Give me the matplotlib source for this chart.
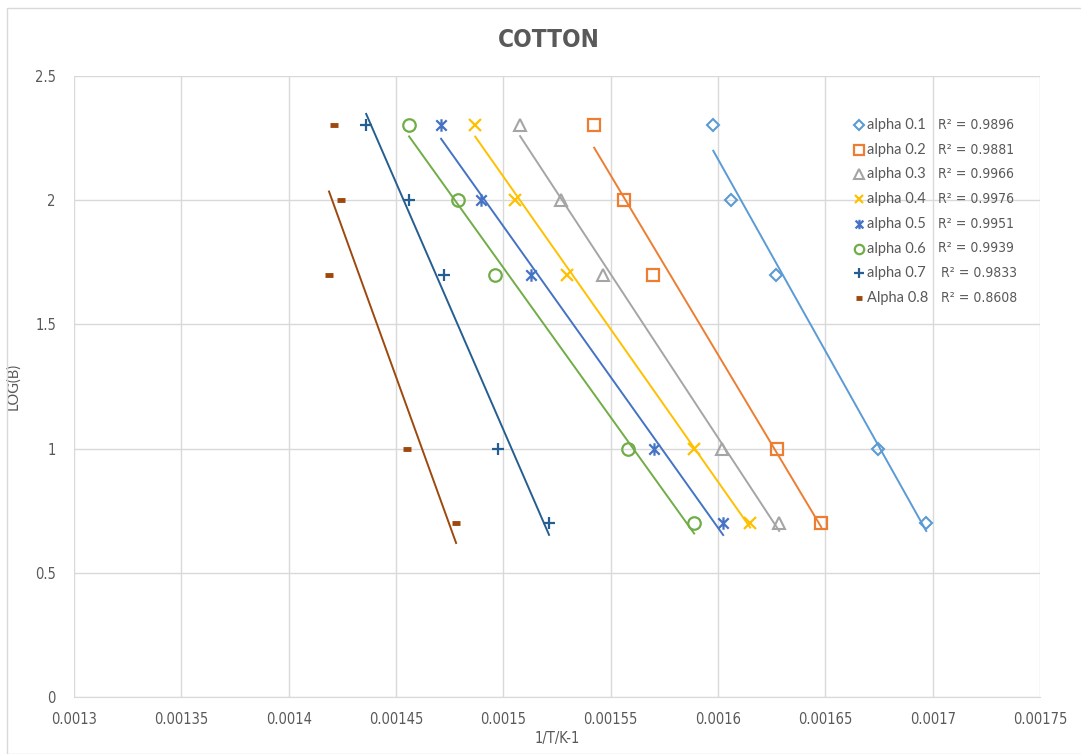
import matplotlib
matplotlib.use("Agg")
import matplotlib.pyplot as plt
import numpy as np
from matplotlib import font_manager
from matplotlib.path import Path
from matplotlib.patches import Rectangle


# --------------------- data

log_b = [2.301, 2.0, 1.699, 1.0, 0.699]

inv_t = {
    "alpha 0.1": [0.0015978, 0.0016061, 0.0016271, 0.0016746, 0.0016970],
    "alpha 0.2": [0.0015423, 0.0015563, 0.0015698, 0.0016276, 0.0016481],
    "alpha 0.3": [0.0015078, 0.0015269, 0.0015465, 0.0016020, 0.0016285],
    "alpha 0.4": [0.0014869, 0.0015055, 0.0015297, 0.0015889, 0.0016150],
    "alpha 0.5": [0.0014710, 0.0014897, 0.0015130, 0.0015703, 0.0016024],
    "alpha 0.6": [0.0014561, 0.0014789, 0.0014962, 0.0015582, 0.0015889],
    "alpha 0.7": [0.0014361, 0.0014561, 0.0014724, 0.0014976, 0.0015213],
    "Alpha 0.8": [0.0014212, 0.0014244, 0.0014188, 0.0014552, 0.0014780],
}

r_squared = ["0.9896", "0.9881", "0.9966", "0.9976", "0.9951", "0.9939", "0.9833", "0.8608"]

colors = ["#5B9BD5", "#ED7D31", "#A5A5A5", "#FFC000", "#4472C4", "#70AD47", "#255E91", "#9E480E"]

x_ticks = [0.0013, 0.00135, 0.0014, 0.00145, 0.0015, 0.00155, 0.0016, 0.00165, 0.0017, 0.00175]
x_tick_labels = ["0.0013", "0.00135", "0.0014", "0.00145", "0.0015", "0.00155",
                 "0.0016", "0.00165", "0.0017", "0.00175"]
y_ticks = [0, 0.5, 1, 1.5, 2, 2.5]
y_tick_labels = ["0", "0.5", "1", "1.5", "2", "2.5"]


# --------------------- fonts

installed = {f.name for f in font_manager.fontManager.ttflist}
narrow = "Liberation Sans Narrow" if "Liberation Sans Narrow" in installed else "DejaVu Sans"
body = "Lato" if "Lato" in installed else "DejaVu Sans"


# --------------------- markers

# excel style asterisk: an X with a vertical bar
asterisk = Path(
    [(-1, -1), (1, 1), (-1, 1), (1, -1), (0, -1.2), (0, 1.2)],
    [Path.MOVETO, Path.LINETO, Path.MOVETO, Path.LINETO, Path.MOVETO, Path.LINETO],
)

marker_styles = [
    dict(marker="D", ms=6.5, mfc="none", mew=1.5),
    dict(marker="s", ms=9, mfc="none", mew=1.6),
    dict(marker="^", ms=9, mfc="none", mew=1.5),
    dict(marker="x", ms=8, mew=1.6),
    dict(marker=asterisk, ms=9, mew=1.6),
    dict(marker="o", ms=9, mfc="none", mew=1.6),
    dict(marker="+", ms=9, mew=1.6),
    dict(marker="_", ms=6, mew=3.5),
]

text_grey = "#595959"
grid_grey = "#D9D9D9"
tick_font = dict(family=narrow, stretch="condensed", size=10.5)

W, H = 1081, 754
fig = plt.figure(figsize=(W / 100, H / 100), dpi=100)
fig.patches.append(Rectangle((7 / W, 0), 1, 1 - 8 / H, transform=fig.transFigure,
                             fill=False, edgecolor=grid_grey, linewidth=1.0))

left, right, top, bottom = 74, 1040, 76, 697
ax = fig.add_axes([left / W, 1 - bottom / H, (right - left) / W, (bottom - top) / H])

for i, (name, xs) in enumerate(inv_t.items()):
    xs = np.array(xs)
    ys = np.array(log_b)
    ax.plot(xs, ys, linestyle="None", color=colors[i], mec=colors[i], zorder=3,
            **marker_styles[i])
    slope, intercept = np.polyfit(xs, ys, 1)
    xl = np.array([xs.min(), xs.max()])
    ax.plot(xl, slope * xl + intercept, color=colors[i], linewidth=1.4, zorder=2)

ax.set_xlim(0.0013, 0.00175)
ax.set_ylim(0, 2.5)
ax.set_xticks(x_ticks)
ax.set_xticklabels(x_tick_labels, fontdict=tick_font)
ax.set_yticks(y_ticks)
ax.set_yticklabels(y_tick_labels, fontdict=tick_font)
ax.grid(True, color=grid_grey, linewidth=1.0)
ax.set_axisbelow(True)
for side in ["top", "right", "left"]:
    ax.spines[side].set_visible(False)
ax.spines["bottom"].set_color(grid_grey)
ax.tick_params(length=0, colors=text_grey)
ax.tick_params(axis="x", pad=11)
ax.tick_params(axis="y", pad=13)

ax.set_xlabel("1/T/K-1", color=text_grey, fontdict=tick_font)
ax.xaxis.set_label_coords(0.5, -(731 - bottom) / (bottom - top))
ax.set_ylabel("LOG(B)", color=text_grey, fontsize=10.5, fontfamily=body)
ax.yaxis.set_label_coords(-(left - 20) / (right - left), 0.5)
fig.text(549 / W, 1 - 40 / H, "COTTON", ha="center", va="center",
         fontsize=17.5, fontweight="bold", fontfamily=narrow, fontstretch="condensed",
         color=text_grey)


# --------------------- legend, drawn by hand so the R² column lines up with it

def to_axes(px, py):
    return (px - left) / (right - left), (bottom - py) / (bottom - top)


for i, name in enumerate(inv_t):
    py = 125 + i * 24.7
    mx, my = to_axes(859, py)
    style = dict(marker_styles[i])
    style["ms"] = style["ms"] * 0.75
    ax.plot([mx], [my], transform=ax.transAxes, clip_on=False, linestyle="None",
            color=colors[i], mec=colors[i], **style)
    tx, ty = to_axes(867, py)
    ax.text(tx, ty, name, transform=ax.transAxes, va="center", ha="left",
            fontsize=10.5, fontfamily=body, color=text_grey)
    rx, ry = to_axes(938 if i < 6 else 941, py)
    ax.text(rx, ry, "R² = " + r_squared[i], transform=ax.transAxes, va="center",
            ha="left", fontsize=10, fontfamily=narrow, fontstretch="condensed",
            color=text_grey)

fig.savefig("out.png", dpi=100)
